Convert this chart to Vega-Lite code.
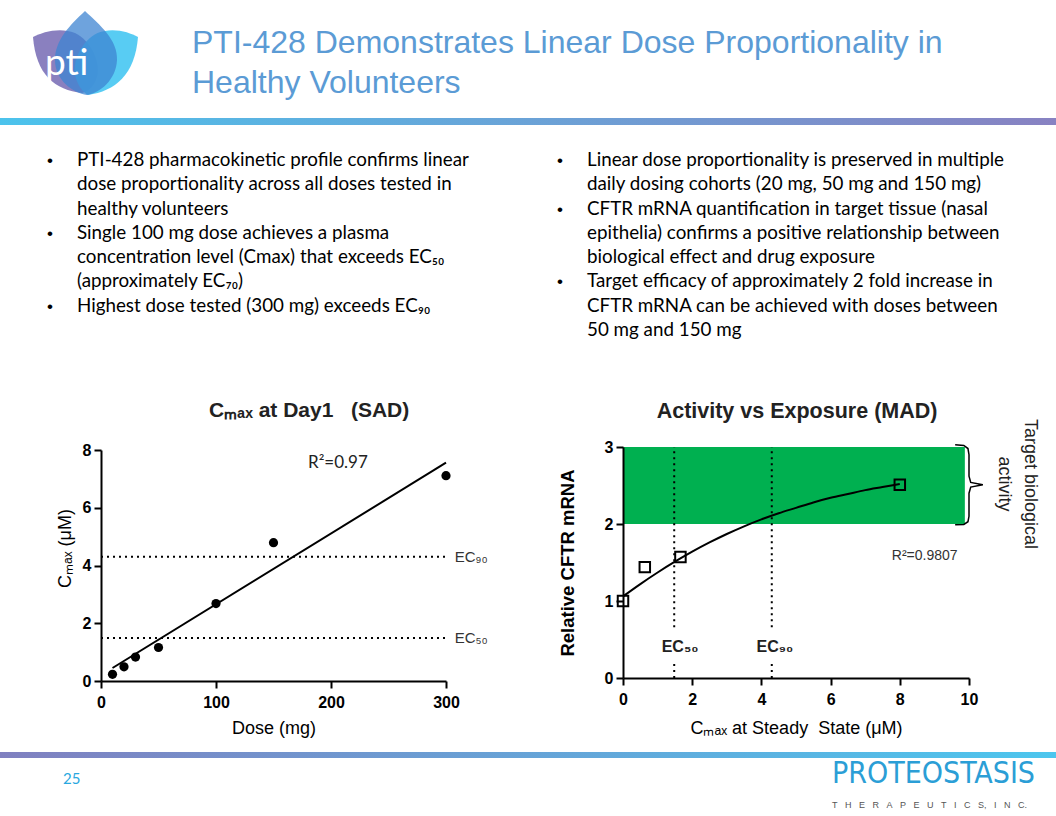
{
  "$schema": "https://vega.github.io/schema/vega-lite/v6.json",
  "width": 1056,
  "height": 816,
  "autosize": {"type": "none"},
  "padding": 0,
  "background": "white",
  "config": {"view": {"stroke": null}, "axis": {"grid": false}},
  "datasets": {
    "bars": [
      {"bar": "top", "x0": 0, "x1": 1056, "y0": 118, "y1": 125},
      {"bar": "bottom", "x0": 0, "x1": 1056, "y0": 752, "y1": 758}
    ],
    "logo": [
      {"part": "purple", "x": 85, "y": 55},
      {"part": "cyan", "x": 85, "y": 55},
      {"part": "blue", "x": 85, "y": 55}
    ],
    "logotext": [{"t": "pti", "x": 45, "y": 75}],
    "title": [
      {"t": "PTI-428 Demonstrates Linear Dose Proportionality in", "x": 192, "y": 53},
      {"t": "Healthy Volunteers", "x": 192, "y": 93}
    ],
    "page": [{"t": "25", "x": 63, "y": 784}],
    "brand": [{"t": "PROTEOSTASIS", "x": 832, "y": 783}],
    "brandsub": [{"t": "T\u2002\u2004H\u2002\u2004E\u2002\u2004R\u2002\u2004A\u2002\u2004P\u2002\u2004E\u2002\u2004U\u2002\u2004T\u2002\u2004I\u2002\u2004C\u2002\u2004S,\u2002\u2004I\u2002\u2004N\u2002\u2004C.", "x": 832, "y": 808}],
    "bullets": [
      {"col": "L", "line": 1, "bullet": true, "t": "PTI-428 pharmacokinetic profile confirms linear"},
      {"col": "L", "line": 2, "bullet": false, "t": "dose proportionality across all doses tested in"},
      {"col": "L", "line": 3, "bullet": false, "t": "healthy volunteers"},
      {"col": "L", "line": 4, "bullet": true, "t": "Single 100 mg dose achieves a plasma"},
      {"col": "L", "line": 5, "bullet": false, "t": "concentration level (Cmax) that exceeds EC₅₀"},
      {"col": "L", "line": 6, "bullet": false, "t": "(approximately EC₇₀)"},
      {"col": "L", "line": 7, "bullet": true, "t": "Highest dose tested (300 mg) exceeds EC₉₀"},
      {"col": "R", "line": 1, "bullet": true, "t": "Linear dose proportionality is preserved in multiple"},
      {"col": "R", "line": 2, "bullet": false, "t": "daily dosing cohorts (20 mg, 50 mg and 150 mg)"},
      {"col": "R", "line": 3, "bullet": true, "t": "CFTR mRNA quantification in target tissue (nasal"},
      {"col": "R", "line": 4, "bullet": false, "t": "epithelia) confirms a positive relationship between"},
      {"col": "R", "line": 5, "bullet": false, "t": "biological effect and drug exposure"},
      {"col": "R", "line": 6, "bullet": true, "t": "Target efficacy of approximately 2 fold increase in"},
      {"col": "R", "line": 7, "bullet": false, "t": "CFTR mRNA can be achieved with doses between"},
      {"col": "R", "line": 8, "bullet": false, "t": "50 mg and 150 mg"}
    ],
    "sad": [
      {"dose": 10, "cmax": 0.23},
      {"dose": 20, "cmax": 0.49},
      {"dose": 30, "cmax": 0.83},
      {"dose": 50, "cmax": 1.16},
      {"dose": 100, "cmax": 2.68},
      {"dose": 150, "cmax": 4.79},
      {"dose": 300, "cmax": 7.11}
    ],
    "sad_fit": [{"dose": 10, "cmax": 0.45}, {"dose": 300, "cmax": 7.56}],
    "sad_ec": [
      {"label": "EC₉₀", "level": 4.3, "x0": 0, "x1": 302, "lx": 307.5},
      {"label": "EC₅₀", "level": 1.49, "x0": 0, "x1": 302, "lx": 307.5}
    ],
    "sad_r2": [{"t": "R²=0.97", "dose": 180, "cmax": 7.38}],
    "sad_title": [{"t": "Cₘₐₓ at Day1\u00a0\u00a0\u00a0(SAD)", "dose": 181, "cmax": 9.14}],
    "mad_band": [{"x0": 0, "x1": 9.88, "y0": 2, "y1": 3}],
    "mad_ec": [
      {"x": 1.48, "y0": 0, "y1": 0.22},
      {"x": 1.48, "y0": 0.66, "y1": 3},
      {"x": 4.3, "y0": 0, "y1": 0.22},
      {"x": 4.3, "y0": 0.66, "y1": 3}
    ],
    "mad_fit": [
      {"x": 0, "y": 1.06}, {"x": 0.5, "y": 1.22}, {"x": 1, "y": 1.37}, {"x": 1.5, "y": 1.51},
      {"x": 2, "y": 1.64}, {"x": 2.5, "y": 1.76}, {"x": 3, "y": 1.87}, {"x": 3.5, "y": 1.97},
      {"x": 4, "y": 2.06}, {"x": 4.5, "y": 2.14}, {"x": 5, "y": 2.21}, {"x": 5.5, "y": 2.28},
      {"x": 6, "y": 2.34}, {"x": 6.5, "y": 2.39}, {"x": 7, "y": 2.44}, {"x": 7.5, "y": 2.48},
      {"x": 8, "y": 2.52}
    ],
    "mad_pts": [
      {"x": 0, "y": 1.0},
      {"x": 0.63, "y": 1.44},
      {"x": 1.66, "y": 1.57},
      {"x": 8.0, "y": 2.51}
    ],
    "mad_eclabels": [
      {"t": "EC₅₀", "x": 1.65, "y": 0.4},
      {"t": "EC₉₀", "x": 4.39, "y": 0.4}
    ],
    "mad_r2": [{"t": "R²=0.9807", "x": 7.77, "y": 1.53}],
    "mad_title": [{"t": "Activity vs Exposure (MAD)", "x": 5.03, "y": 3.377}],
    "brace": [
      {"o": 1, "x": 9.6, "y": 3.03}, {"o": 2, "x": 9.85, "y": 3.02}, {"o": 3, "x": 9.97, "y": 2.98},
      {"o": 4, "x": 10.0, "y": 2.9}, {"o": 5, "x": 10.0, "y": 2.62}, {"o": 6, "x": 10.05, "y": 2.54},
      {"o": 7, "x": 10.4, "y": 2.51}, {"o": 8, "x": 10.05, "y": 2.48}, {"o": 9, "x": 10.0, "y": 2.4},
      {"o": 10, "x": 10.0, "y": 2.1}, {"o": 11, "x": 9.97, "y": 2.03}, {"o": 12, "x": 9.85, "y": 1.995},
      {"o": 13, "x": 9.6, "y": 1.99}
    ],
    "target": [{"t": ["Target biological", "activity"], "x": 11.75, "y": 2.52}]
  },
  "layer": [
    {
      "layer": [
        {
          "data": {"name": "bars"},
          "transform": [{"filter": "datum.bar == 'top'"}],
          "mark": {"type": "rect", "color": {"gradient": "linear", "x1": 0, "y1": 0, "x2": 1, "y2": 0, "stops": [{"offset": 0, "color": "#4CC3EC"}, {"offset": 1, "color": "#8882C2"}]}},
          "encoding": {
            "x": {"field": "x0", "type": "quantitative", "scale": {"domain": [0, 1056], "range": [0, 1056], "nice": false, "zero": false}, "axis": null},
            "x2": {"field": "x1"},
            "y": {"field": "y0", "type": "quantitative", "scale": {"domain": [0, 816], "range": [0, 816], "nice": false, "zero": false}, "axis": null},
            "y2": {"field": "y1"}
          }
        },
        {
          "data": {"name": "bars"},
          "transform": [{"filter": "datum.bar == 'bottom'"}],
          "mark": {"type": "rect", "color": {"gradient": "linear", "x1": 0, "y1": 0, "x2": 1, "y2": 0, "stops": [{"offset": 0, "color": "#8080C0"}, {"offset": 1, "color": "#4CC6EE"}]}},
          "encoding": {
            "x": {"field": "x0", "type": "quantitative", "scale": {"domain": [0, 1056], "range": [0, 1056], "nice": false, "zero": false}, "axis": null},
            "x2": {"field": "x1"},
            "y": {"field": "y0", "type": "quantitative", "scale": {"domain": [0, 816], "range": [0, 816], "nice": false, "zero": false}, "axis": null},
            "y2": {"field": "y1"}
          }
        },
        {
          "data": {"name": "logo"},
          "mark": {"type": "point", "filled": true, "size": 10000, "opacity": 1, "strokeWidth": 0},
          "encoding": {
            "x": {"field": "x", "type": "quantitative", "scale": {"domain": [0, 1056], "range": [0, 1056], "nice": false, "zero": false}, "axis": null},
            "y": {"field": "y", "type": "quantitative", "scale": {"domain": [0, 816], "range": [0, 816], "nice": false, "zero": false}, "axis": null},
            "shape": {"field": "part", "type": "nominal", "legend": null, "scale": {"domain": ["purple", "cyan", "blue"], "range": [
              "M-0.06,0.76C-0.6,0.7,-0.98,0.4,-1.04,-0.36C-0.85,-0.46,-0.5,-0.56,-0.2,-0.44C0.1,-0.3,0.3,0.1,0.25,0.4C0.2,0.6,0.1,0.72,-0.06,0.76Z",
              "M0.06,0.8C0.6,0.72,1.0,0.4,1.06,-0.36C0.88,-0.46,0.55,-0.56,0.25,-0.44C-0.05,-0.3,-0.25,0.1,-0.2,0.4C-0.15,0.6,-0.05,0.74,0.06,0.8Z",
              "M0,-0.88C0.3,-0.6,0.66,-0.3,0.64,0.1C0.62,0.5,0.3,0.76,0.04,0.8C-0.24,0.76,-0.6,0.5,-0.6,0.1C-0.6,-0.3,-0.3,-0.6,0,-0.88Z"
            ]}},
            "fill": {"field": "part", "type": "nominal", "legend": null, "scale": {"domain": ["purple", "cyan", "blue"], "range": ["#8A80BF", "rgba(70,198,242,0.9)", "rgba(62,132,210,0.75)"]}}
          }
        },
        {
          "data": {"name": "logotext"},
          "mark": {"type": "text", "align": "left", "baseline": "alphabetic", "font": "Lato", "fontSize": 37, "color": "white"},
          "encoding": {
            "x": {"field": "x", "type": "quantitative", "scale": {"domain": [0, 1056], "range": [0, 1056], "nice": false, "zero": false}, "axis": null},
            "y": {"field": "y", "type": "quantitative", "scale": {"domain": [0, 816], "range": [0, 816], "nice": false, "zero": false}, "axis": null},
            "text": {"field": "t"}
          }
        },
        {
          "data": {"name": "title"},
          "mark": {"type": "text", "align": "left", "baseline": "alphabetic", "font": "Liberation Sans", "fontSize": 32, "color": "#5B9BD5"},
          "encoding": {
            "x": {"field": "x", "type": "quantitative", "scale": {"domain": [0, 1056], "range": [0, 1056], "nice": false, "zero": false}, "axis": null},
            "y": {"field": "y", "type": "quantitative", "scale": {"domain": [0, 816], "range": [0, 816], "nice": false, "zero": false}, "axis": null},
            "text": {"field": "t"}
          }
        },
        {
          "data": {"name": "page"},
          "mark": {"type": "text", "align": "left", "baseline": "alphabetic", "font": "Lato", "fontSize": 15, "color": "#29A8E0"},
          "encoding": {
            "x": {"field": "x", "type": "quantitative", "scale": {"domain": [0, 1056], "range": [0, 1056], "nice": false, "zero": false}, "axis": null},
            "y": {"field": "y", "type": "quantitative", "scale": {"domain": [0, 816], "range": [0, 816], "nice": false, "zero": false}, "axis": null},
            "text": {"field": "t"}
          }
        },
        {
          "data": {"name": "brand"},
          "mark": {"type": "text", "align": "left", "baseline": "alphabetic", "font": "Liberation Sans Narrow, DejaVu Sans Condensed, Roboto", "fontSize": 30, "color": "#2B9ED6"},
          "encoding": {
            "x": {"field": "x", "type": "quantitative", "scale": {"domain": [0, 1056], "range": [0, 1056], "nice": false, "zero": false}, "axis": null},
            "y": {"field": "y", "type": "quantitative", "scale": {"domain": [0, 816], "range": [0, 816], "nice": false, "zero": false}, "axis": null},
            "text": {"field": "t"}
          }
        },
        {
          "data": {"name": "brandsub"},
          "mark": {"type": "text", "align": "left", "baseline": "alphabetic", "font": "Liberation Sans", "fontSize": 9, "color": "#555555"},
          "encoding": {
            "x": {"field": "x", "type": "quantitative", "scale": {"domain": [0, 1056], "range": [0, 1056], "nice": false, "zero": false}, "axis": null},
            "y": {"field": "y", "type": "quantitative", "scale": {"domain": [0, 816], "range": [0, 816], "nice": false, "zero": false}, "axis": null},
            "text": {"field": "t"}
          }
        }
      ]
    },
    {
      "data": {"name": "bullets"},
      "layer": [
        {
          "mark": {"type": "text", "align": "left", "baseline": "alphabetic", "font": "Lato", "fontSize": 18.8, "color": "black"},
          "encoding": {
            "x": {"field": "col", "type": "nominal", "scale": {"type": "point", "domain": ["L", "R"], "range": [77, 587], "padding": 0}, "axis": null},
            "y": {"field": "line", "type": "quantitative", "scale": {"domain": [1, 8], "range": [166, 336], "nice": false, "zero": false}, "axis": null},
            "text": {"field": "t"}
          }
        },
        {
          "transform": [{"filter": "datum.bullet"}],
          "mark": {"type": "text", "align": "left", "baseline": "alphabetic", "font": "Liberation Sans", "fontSize": 17, "color": "black", "text": "•", "dx": -30},
          "encoding": {
            "x": {"field": "col", "type": "nominal", "scale": {"type": "point", "domain": ["L", "R"], "range": [77, 587], "padding": 0}, "axis": null},
            "y": {"field": "line", "type": "quantitative", "scale": {"domain": [1, 8], "range": [166, 336], "nice": false, "zero": false}, "axis": null}
          }
        }
      ]
    },
    {
      "layer": [
        {
          "data": {"name": "sad_ec"},
          "mark": {"type": "rule", "strokeDash": [2, 4], "strokeWidth": 2, "color": "black"},
          "encoding": {
            "x": {"field": "x0", "type": "quantitative", "scale": {"domain": [0, 300], "range": [101, 446], "nice": false, "zero": false},
              "axis": {"orient": "bottom", "offset": -135, "values": [0, 100, 200, 300], "format": "d", "title": "Dose (mg)", "titleFont": "Liberation Sans", "titleFontSize": 18, "titleFontWeight": "normal", "titleColor": "black", "titlePadding": 9, "labelFont": "Liberation Sans", "labelFontSize": 16, "labelFontWeight": "bold", "labelColor": "black", "labelPadding": 6, "labelFlush": false, "labelOverlap": false, "tickSize": 7, "tickWidth": 2, "tickColor": "black", "domainColor": "black", "domainWidth": 2, "grid": false, "zindex": 1}},
            "x2": {"field": "x1"},
            "y": {"field": "level", "type": "quantitative", "scale": {"domain": [0, 8], "range": [681, 450], "nice": false, "zero": false},
              "axis": {"orient": "left", "offset": -101, "values": [0, 2, 4, 6, 8], "format": "d", "title": "Cₘₐₓ (μM)", "titleY": 548, "titleFont": "Liberation Sans", "titleFontSize": 18, "titleFontWeight": "normal", "titleColor": "black", "titlePadding": 8, "labelFont": "Liberation Sans", "labelFontSize": 16, "labelFontWeight": "bold", "labelColor": "black", "labelPadding": 3, "labelFlush": false, "labelOverlap": false, "tickSize": 7, "tickWidth": 2, "tickColor": "black", "domainColor": "black", "domainWidth": 2, "grid": false, "zindex": 1}}
          }
        },
        {
          "data": {"name": "sad_ec"},
          "mark": {"type": "text", "align": "left", "baseline": "middle", "font": "Liberation Sans", "fontSize": 15, "color": "#333333"},
          "encoding": {
            "x": {"field": "lx", "type": "quantitative", "scale": {"domain": [0, 300], "range": [101, 446], "nice": false, "zero": false}},
            "y": {"field": "level", "type": "quantitative", "scale": {"domain": [0, 8], "range": [681, 450], "nice": false, "zero": false}},
            "text": {"field": "label"}
          }
        },
        {
          "data": {"name": "sad_fit"},
          "mark": {"type": "line", "color": "black", "strokeWidth": 2},
          "encoding": {
            "x": {"field": "dose", "type": "quantitative", "scale": {"domain": [0, 300], "range": [101, 446], "nice": false, "zero": false}},
            "y": {"field": "cmax", "type": "quantitative", "scale": {"domain": [0, 8], "range": [681, 450], "nice": false, "zero": false}}
          }
        },
        {
          "data": {"name": "sad"},
          "mark": {"type": "circle", "color": "black", "size": 85, "opacity": 1},
          "encoding": {
            "x": {"field": "dose", "type": "quantitative", "scale": {"domain": [0, 300], "range": [101, 446], "nice": false, "zero": false}},
            "y": {"field": "cmax", "type": "quantitative", "scale": {"domain": [0, 8], "range": [681, 450], "nice": false, "zero": false}}
          }
        },
        {
          "data": {"name": "sad_r2"},
          "mark": {"type": "text", "align": "left", "baseline": "alphabetic", "font": "Lato", "fontSize": 17, "color": "#222222"},
          "encoding": {
            "x": {"field": "dose", "type": "quantitative", "scale": {"domain": [0, 300], "range": [101, 446], "nice": false, "zero": false}},
            "y": {"field": "cmax", "type": "quantitative", "scale": {"domain": [0, 8], "range": [681, 450], "nice": false, "zero": false}},
            "text": {"field": "t"}
          }
        },
        {
          "data": {"name": "sad_title"},
          "mark": {"type": "text", "align": "center", "baseline": "alphabetic", "font": "Liberation Sans", "fontSize": 21, "fontWeight": "bold", "color": "#222222"},
          "encoding": {
            "x": {"field": "dose", "type": "quantitative", "scale": {"domain": [0, 300], "range": [101, 446], "nice": false, "zero": false}},
            "y": {"field": "cmax", "type": "quantitative", "scale": {"domain": [0, 8], "range": [681, 450], "nice": false, "zero": false}},
            "text": {"field": "t"}
          }
        }
      ]
    },
    {
      "layer": [
        {
          "data": {"name": "mad_band"},
          "mark": {"type": "rect", "color": "#00B050"},
          "encoding": {
            "x": {"field": "x0", "type": "quantitative", "scale": {"domain": [0, 10], "range": [623, 969], "nice": false, "zero": false},
              "axis": {"orient": "bottom", "offset": -138, "values": [0, 2, 4, 6, 8, 10], "format": "d", "title": "Cₘₐₓ at Steady\u00a0\u00a0State (μM)", "titleFont": "Liberation Sans", "titleFontSize": 18, "titleFontWeight": "normal", "titleColor": "black", "titlePadding": 12, "labelFont": "Liberation Sans", "labelFontSize": 16, "labelFontWeight": "bold", "labelColor": "black", "labelPadding": 6, "labelFlush": false, "labelOverlap": false, "tickSize": 7, "tickWidth": 2, "tickColor": "black", "domainColor": "black", "domainWidth": 2, "grid": false, "zindex": 1}},
            "x2": {"field": "x1"},
            "y": {"field": "y0", "type": "quantitative", "scale": {"domain": [0, 3], "range": [678, 447], "nice": false, "zero": false},
              "axis": {"orient": "left", "offset": -623, "values": [0, 1, 2, 3], "format": "d", "title": "Relative CFTR mRNA", "titleFont": "Liberation Sans", "titleFontSize": 18.5, "titleFontWeight": "bold", "titleColor": "black", "titlePadding": 27, "labelFont": "Liberation Sans", "labelFontSize": 16, "labelFontWeight": "bold", "labelColor": "black", "labelPadding": 3, "labelFlush": false, "labelOverlap": false, "tickSize": 7, "tickWidth": 2, "tickColor": "black", "domainColor": "black", "domainWidth": 2, "grid": false, "zindex": 1}},
            "y2": {"field": "y1"}
          }
        },
        {
          "data": {"name": "mad_ec"},
          "mark": {"type": "rule", "strokeDash": [2, 4], "strokeWidth": 2, "color": "black"},
          "encoding": {
            "x": {"field": "x", "type": "quantitative", "scale": {"domain": [0, 10], "range": [623, 969], "nice": false, "zero": false}},
            "y": {"field": "y0", "type": "quantitative", "scale": {"domain": [0, 3], "range": [678, 447], "nice": false, "zero": false}},
            "y2": {"field": "y1"}
          }
        },
        {
          "data": {"name": "mad_fit"},
          "mark": {"type": "line", "color": "black", "strokeWidth": 2, "interpolate": "monotone"},
          "encoding": {
            "x": {"field": "x", "type": "quantitative", "scale": {"domain": [0, 10], "range": [623, 969], "nice": false, "zero": false}},
            "y": {"field": "y", "type": "quantitative", "scale": {"domain": [0, 3], "range": [678, 447], "nice": false, "zero": false}}
          }
        },
        {
          "data": {"name": "mad_pts"},
          "mark": {"type": "point", "shape": "square", "filled": false, "size": 110, "strokeWidth": 2, "color": "black", "opacity": 1},
          "encoding": {
            "x": {"field": "x", "type": "quantitative", "scale": {"domain": [0, 10], "range": [623, 969], "nice": false, "zero": false}},
            "y": {"field": "y", "type": "quantitative", "scale": {"domain": [0, 3], "range": [678, 447], "nice": false, "zero": false}}
          }
        },
        {
          "data": {"name": "mad_eclabels"},
          "mark": {"type": "text", "align": "center", "baseline": "middle", "font": "Liberation Sans", "fontSize": 16, "fontWeight": "bold", "color": "#222222"},
          "encoding": {
            "x": {"field": "x", "type": "quantitative", "scale": {"domain": [0, 10], "range": [623, 969], "nice": false, "zero": false}},
            "y": {"field": "y", "type": "quantitative", "scale": {"domain": [0, 3], "range": [678, 447], "nice": false, "zero": false}},
            "text": {"field": "t"}
          }
        },
        {
          "data": {"name": "mad_r2"},
          "mark": {"type": "text", "align": "left", "baseline": "alphabetic", "font": "Liberation Sans", "fontSize": 14, "color": "#333333"},
          "encoding": {
            "x": {"field": "x", "type": "quantitative", "scale": {"domain": [0, 10], "range": [623, 969], "nice": false, "zero": false}},
            "y": {"field": "y", "type": "quantitative", "scale": {"domain": [0, 3], "range": [678, 447], "nice": false, "zero": false}},
            "text": {"field": "t"}
          }
        },
        {
          "data": {"name": "brace"},
          "mark": {"type": "line", "color": "black", "strokeWidth": 1.5},
          "encoding": {
            "x": {"field": "x", "type": "quantitative", "scale": {"domain": [0, 10], "range": [623, 969], "nice": false, "zero": false}},
            "y": {"field": "y", "type": "quantitative", "scale": {"domain": [0, 3], "range": [678, 447], "nice": false, "zero": false}},
            "order": {"field": "o", "type": "quantitative"}
          }
        },
        {
          "data": {"name": "target"},
          "mark": {"type": "text", "align": "center", "baseline": "middle", "angle": 90, "lineHeight": 26, "font": "Liberation Sans", "fontSize": 18, "color": "#222222"},
          "encoding": {
            "x": {"field": "x", "type": "quantitative", "scale": {"domain": [0, 10], "range": [623, 969], "nice": false, "zero": false}},
            "y": {"field": "y", "type": "quantitative", "scale": {"domain": [0, 3], "range": [678, 447], "nice": false, "zero": false}},
            "text": {"field": "t"}
          }
        },
        {
          "data": {"name": "mad_title"},
          "mark": {"type": "text", "align": "center", "baseline": "alphabetic", "font": "Liberation Sans", "fontSize": 21.5, "fontWeight": "bold", "color": "#222222"},
          "encoding": {
            "x": {"field": "x", "type": "quantitative", "scale": {"domain": [0, 10], "range": [623, 969], "nice": false, "zero": false}},
            "y": {"field": "y", "type": "quantitative", "scale": {"domain": [0, 3], "range": [678, 447], "nice": false, "zero": false}},
            "text": {"field": "t"}
          }
        }
      ]
    }
  ],
  "resolve": {
    "scale": {"x": "independent", "y": "independent"},
    "axis": {"x": "independent", "y": "independent"}
  }
}
